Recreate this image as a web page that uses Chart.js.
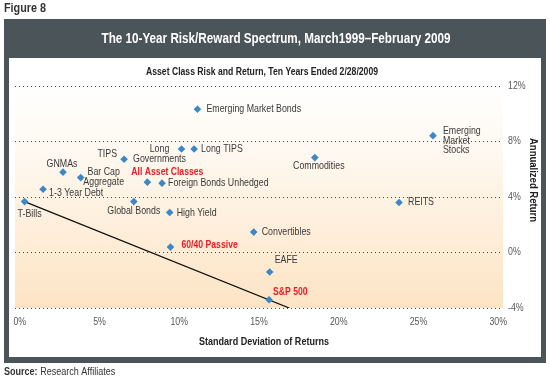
<!DOCTYPE html>
<html><head><meta charset="utf-8">
<script src="https://cdn.jsdelivr.net/npm/chart.js@4"></script>
<style>html,body{margin:0;padding:0;background:#fff;overflow:hidden}</style>
</head><body>
<canvas id="c" width="550" height="381"></canvas>
<script>
// ---- data ----
const assetNames = ['T-Bills','1-3 Year Debt','GNMAs','Bar Cap Aggregate','TIPS','Long Governments','Long TIPS',
  'Emerging Market Bonds','All Asset Classes','Foreign Bonds Unhedged','Global Bonds','High Yield','Convertibles',
  '60/40 Passive','EAFE','S&P 500','Commodities','Emerging Market Stocks','REITS'];
const stdDev =    [0.3, 1.46, 2.71, 3.82, 6.54, 10.14, 10.93, 11.14, 8.0, 8.92, 7.15, 9.4, 14.67, 9.45, 15.67, 15.63, 18.5, 25.91, 23.78];
const annReturn = [3.67, 4.56, 5.79, 5.4, 6.72, 7.46, 7.46, 10.32, 5.07, 5.0, 3.67, 2.88, 1.47, 0.39, -1.41, -3.41, 6.84, 8.42, 3.6];
const highlighted = ['All Asset Classes','60/40 Passive','S&P 500'];
const lineStdDev = [0.3, 16.9];
const lineReturn = [3.67, -4.0];
const xTickValues = [0, 5, 10, 15, 20, 25, 30];
const yTickValues = [-4, 0, 4, 8, 12];

// ---- label placement (layout only) ----
const labelLayout = {
  'T-Bills': {dx:-7, dy:13, align:'left'},
  '1-3 Year Debt': {dx:6, dy:4, align:'left'},
  'GNMAs': {dx:-1, dy:-8, align:'center'},
  'Bar Cap Aggregate': {dx:23, dy:-5, align:'center', lines:['Bar Cap','Aggregate'], lh:10},
  'TIPS': {dx:-7, dy:-5, align:'right'},
  'Long Governments': {dx:-22, dy:0, align:'center', lines:['Long','Governments'], lh:10},
  'Long TIPS': {dx:7, dy:0, align:'left'},
  'Emerging Market Bonds': {dx:9, dy:0, align:'left'},
  'All Asset Classes': {dx:20, dy:-10, align:'center'},
  'Foreign Bonds Unhedged': {dx:6, dy:0, align:'left'},
  'Global Bonds': {dx:0, dy:9.5, align:'center'},
  'High Yield': {dx:7, dy:0.5, align:'left'},
  'Convertibles': {dx:8, dy:0, align:'left'},
  '60/40 Passive': {dx:11, dy:-2, align:'left'},
  'EAFE': {dx:5, dy:-12, align:'left'},
  'S&P 500': {dx:4, dy:-8, align:'left'},
  'Commodities': {dx:4, dy:8.5, align:'center'},
  'Emerging Market Stocks': {dx:10, dy:-4.7, align:'left', lines:['Emerging','Market','Stocks'], lh:9.7},
  'REITS': {dx:9, dy:0, align:'left'}
};

const FONT = "'Liberation Sans', Arial, sans-serif";
const SX = 0.84;  // horizontal condensing to mimic the narrow original face
const FRAME = '#4b5458';
const TEXT = '#3a3a3a';
const TICK = '#5a5a5a';
const RED = '#e3202a';
const BLUE = '#3b88c8';

const points = assetNames.map((n, i) => ({x: stdDev[i], y: annReturn[i]}));
const linePts = lineStdDev.map((v, i) => ({x: v, y: lineReturn[i]}));

// draw condensed text; either a fixed scale or fitted to a target width
function txt(c, s, x, y, align, font, opt) {
  opt = opt || {};
  c.save();
  c.font = font;
  const mw = c.measureText(s).width;
  const sx = opt.width ? opt.width / mw : (opt.sx || SX);
  const w = mw * sx;
  const x0 = align === 'center' ? x - w / 2 : align === 'right' ? x - w : x;
  c.translate(x0, y); c.scale(sx, 1);
  c.textAlign = 'left'; c.textBaseline = 'middle';
  c.fillText(s, 0, 0);
  c.restore();
  return w;
}

const decor = {
  id: 'decor',
  beforeDraw(chart) {
    const c = chart.ctx, a = chart.chartArea;
    c.save();
    c.fillStyle = '#fff'; c.fillRect(0, 0, 550, 381);
    c.fillStyle = FRAME; c.fillRect(4, 19, 542, 344);
    c.fillStyle = '#fff'; c.fillRect(9, 58, 532, 299);
    const g = c.createLinearGradient(0, a.top, 0, a.bottom);
    g.addColorStop(0, '#ffffff');
    g.addColorStop(0.3, '#fef8f0');
    g.addColorStop(1, '#fde4c4');
    c.fillStyle = g; c.fillRect(a.left, a.top, a.right - a.left, a.bottom - a.top);

    c.fillStyle = '#333';
    txt(c, 'Figure 8', 4, 9, 'left', 'bold 12px ' + FONT, {width: 42});
    c.fillStyle = '#fff';
    txt(c, 'The 10-Year Risk/Reward Spectrum, March1999\u2013February 2009', 276, 39, 'center', 'bold 14px ' + FONT, {width: 349});
    c.fillStyle = '#222';
    txt(c, 'Asset Class Risk and Return, Ten Years Ended 2/28/2009', 262, 72, 'center', 'bold 10.5px ' + FONT, {width: 232});
    txt(c, 'Standard Deviation of Returns', 264, 342, 'center', 'bold 11px ' + FONT, {width: 130});
    c.save(); c.translate(533, 180); c.rotate(Math.PI / 2);
    txt(c, 'Annualized Return', 0, 0, 'center', 'bold 11px ' + FONT, {width: 84});
    c.restore();
    c.fillStyle = '#333';
    const w = txt(c, 'Source: ', 4, 372, 'left', 'bold 10.5px ' + FONT, {sx: 0.86});
    txt(c, 'Research Affiliates', 4 + w, 372, 'left', '10.5px ' + FONT, {sx: 0.86});
    c.restore();
  },
  afterDatasetsDraw(chart) {
    const c = chart.ctx, meta = chart.getDatasetMeta(1);
    const xs = chart.scales.x, ys = chart.scales.y, a = chart.chartArea;
    c.save();
    // tick labels, positioned by the library's scales
    c.fillStyle = TICK;
    xs.ticks.forEach(t => txt(c, t.value + '%', xs.getPixelForValue(t.value), 322, 'center', '10.5px ' + FONT));
    ys.ticks.forEach(t => txt(c, t.value + '%', a.right + 5, ys.getPixelForValue(t.value), 'left', '10.5px ' + FONT));
    // point labels
    assetNames.forEach((n, i) => {
      const el = meta.data[i], L = labelLayout[n];
      const red = highlighted.includes(n);
      c.fillStyle = red ? RED : TEXT;
      const f = (red ? 'bold 10.3px ' : '10.5px ') + FONT;
      const lines = L.lines || [n];
      lines.forEach((t, k) => txt(c, t, el.x + L.dx, el.y + L.dy + k * (L.lh || 10), L.align, f));
    });
    c.restore();
  }
};

new Chart(document.getElementById('c'), {
  type: 'scatter',
  data: {
    datasets: [
      {data: linePts, showLine: true, borderColor: '#111', borderWidth: 1.3, pointRadius: 0, order: 2},
      {data: points, pointStyle: 'rectRot', pointRadius: 3.8, backgroundColor: BLUE, borderColor: BLUE, borderWidth: 0, order: 1}
    ]
  },
  options: {
    responsive: false, animation: false, devicePixelRatio: 1,
    layout: {padding: {left: 15, top: 86, right: 0, bottom: 0}},
    plugins: {legend: {display: false}, tooltip: {enabled: false}},
    scales: {
      x: {
        type: 'linear', min: -0.3, max: 30.3,
        afterBuildTicks: s => { s.ticks = xTickValues.map(v => ({value: v})); },
        afterFit: s => { s.height = 73; },
        ticks: {display: false, autoSkip: false},
        grid: {display: false, drawTicks: false},
        border: {display: false}
      },
      y: {
        position: 'right', min: -4, max: 12,
        afterBuildTicks: s => { s.ticks = yTickValues.map(v => ({value: v})); },
        afterFit: s => { s.width = 47; },
        ticks: {display: false, autoSkip: false},
        grid: {color: '#444', lineWidth: 1, drawTicks: false},
        border: {display: false, dash: [1, 3]}
      }
    }
  },
  plugins: [decor]
});
</script>
</body></html>
